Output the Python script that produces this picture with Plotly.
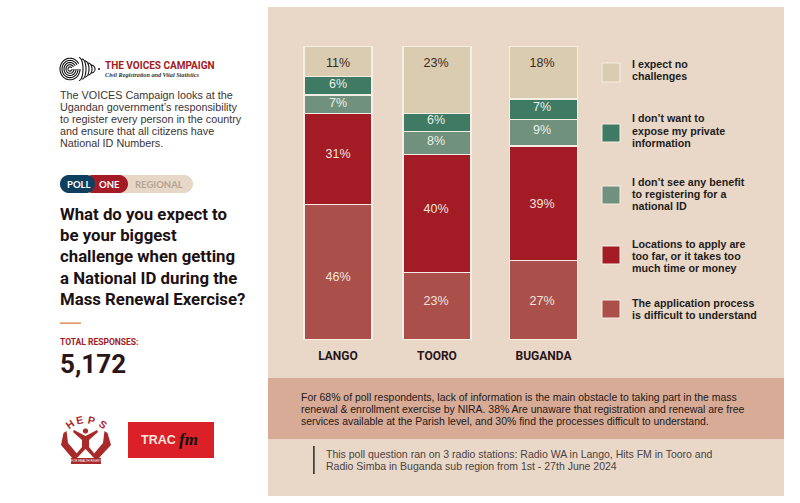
import numpy as np
import plotly.graph_objects as go

W, H = 800, 503

regions = ["LANGO", "TOORO", "BUGANDA"]
answers = ["The application process is difficult to understand",
           "Locations to apply are too far, or it takes too much time or money",
           "I don't see any benefit to registering for a national ID",
           "I don't want to expose my private information",
           "I expect no challenges"]

# bar heights (lango labels add up to 101 so the drawn bars are squeezed)
difficult = [46, 23, 27]
too_far = [31, 40, 39]
no_benefit = [6.3, 8, 9]
private = [6.3, 6, 7]
no_challenge = [10.4, 23, 18]

difficult_lbl = ["46%", "23%", "27%"]
too_far_lbl = ["31%", "40%", "39%"]
no_benefit_lbl = ["7%", "8%", "9%"]
private_lbl = ["6%", "6%", "7%"]
no_challenge_lbl = ["11%", "23%", "18%"]

colors = ["#ab4f4a", "#a31b24", "#70917d", "#3f7a64", "#d9ccb1"]
label_colors = ["#f3e4d8", "#f3e4d8", "#e9efe4", "#e9efe4", "#3a2a22"]

# layout in pixels of the 800x503 page
bar_x = [338, 437, 543.5]
bar_top, bar_bottom = 46, 340
label_x = [338, 436, 542]
label_y = [[278, 302, 302], [155, 210, 205], [104, 142, 131], [85, 121, 108], [64, 64, 64]]

SANS = "Liberation Sans"
HEAD = "Roboto"


def px(x):
    return x / W


def py(y):
    return 1 - y / H


def rect(x0, y0, x1, y1, color, line=None, lw=0):
    return dict(type="rect", xref="paper", yref="paper", x0=px(x0), x1=px(x1), y0=py(y0), y1=py(y1),
                fillcolor=color, line=dict(color=line, width=lw), layer="below")


def path(points, color=None, line=None, lw=0, close=False):
    d = "M " + " L ".join("{:.5f},{:.5f}".format(px(a), py(b)) for a, b in points)
    if close:
        d += " Z"
    return dict(type="path", xref="paper", yref="paper", path=d, fillcolor=color,
                line=dict(color=line, width=lw), layer="above")


def arc(cx, cy, rx, ry, a0, a1, n=40):
    t = np.radians(np.linspace(a0, a1, n))
    return list(zip(cx + rx * np.cos(t), cy + ry * np.sin(t)))


def text(x, y, s, size, color="#1f1a1a", font=SANS, anchor="left", angle=0):
    # annotations carry about a pixel of padding on the left
    dx = -0.8 if anchor == "left" else 0
    return dict(xref="paper", yref="paper", x=px(x + dx), y=py(y), text=s, showarrow=False,
                xanchor=anchor, yanchor="middle", textangle=angle,
                font=dict(family=font, size=size, color=color), borderpad=0)


fig = go.Figure()

series = [difficult, too_far, no_benefit, private, no_challenge]
for vals, name, col in zip(series, answers, colors):
    fig.add_trace(go.Bar(x=bar_x, y=vals, name=name, width=68,
                         marker=dict(color=col, line=dict(color="#f6eee4", width=1.4))))

# percent labels sit off-centre in the original, so they get their own text trace
all_labels = [difficult_lbl, too_far_lbl, no_benefit_lbl, private_lbl, no_challenge_lbl]
for lbls, ys, col in zip(all_labels, label_y, label_colors):
    fig.add_trace(go.Scatter(x=label_x, y=[(bar_bottom - v) / (bar_bottom - bar_top) * 100 for v in ys],
                             mode="text", text=lbls,
                             textfont=dict(family=SANS, size=12.5, color=col)))

shapes = [rect(268, 7, 784, 496, "#e9d8c8"),
          rect(268, 378, 784, 439, "#d7ab95"),
          rect(313.2, 446, 314.6, 474, "#1f1a1a"),
          rect(60, 322.5, 81, 323.8, "#e07b39")]

# legend
swatches = [(63, 82, 4), (124, 142, 3), (186, 204, 2), (246, 264, 1), (300, 318, 0)]
for y0, y1, i in swatches:
    shapes.append(rect(602, y0, 620, y1, colors[i], "#f6eee4", 1))

legend_lines = [(64, "I expect no"), (76, "challenges"),
                (118, "I don\u2019t want to"), (131, "expose my private"), (143, "information"),
                (182, "I don\u2019t see any benefit"), (194, "to registering for a"), (206, "national ID"),
                (244, "Locations to apply are"), (256, "too far, or it takes too"), (268, "much time or money"),
                (303, "The application process"), (315, "is difficult to understand")]

ann = [text(632, y, "<b>" + s + "</b>", 10.7, "#231c1c") for y, s in legend_lines]

# left column
intro = ["The VOICES Campaign looks at the", "Ugandan government\u2019s responsibility",
         "to register every person in the country", "and ensure that all citizens have",
         "National ID Numbers."]
for i, s in enumerate(intro):
    ann.append(text(60, 95 + i * 12, s, 10.8, "#3a3535"))

title = ["What do you expect to", "be your biggest", "challenge when getting",
         "a National ID during the", "Mass Renewal Exercise?"]
for y, s in zip([214, 235, 256, 278, 299], title):
    ann.append(text(60, y, "<b>" + s + "</b>", 16.8, "#1c1214", HEAD))

ann.append(text(60, 342, "<b>TOTAL RESPONSES:</b>", 8.5, "#a31b24", HEAD))
ann.append(text(60, 364, "<b>5,172</b>", 26, "#2a1518", HEAD))

# band and footnote
band = ["For 68% of poll respondents, lack of information is the main obstacle to taking part in the mass",
        "renewal &amp; enrollment exercise by NIRA. 38% Are unaware that registration and renewal are free",
        "services available at the Parish level, and 30% find the processes difficult to understand."]
for y, s in zip([397, 409, 421], band):
    ann.append(text(301, y, s, 10.45, "#1f1a1a"))
foot = ["This poll question ran on 3 radio stations: Radio WA in Lango, Hits FM in Tooro and",
        "Radio Simba in Buganda sub region from 1st - 27th June 2024"]
for y, s in zip([454, 466], foot):
    ann.append(text(326, y, s, 10.5, "#4a4240"))


# poll pill
def pill(x0, x1, y0, y1, color):
    r = (y1 - y0) / 2
    pts = arc(x0 + r, y0 + r, r, r, 90, 270) + arc(x1 - r, y0 + r, r, r, -90, 90)
    return path(pts, color, close=True)


shapes.append(pill(60, 193, 175, 193, "#e7d7c6"))
shapes.append(pill(84, 128, 175, 193, "#a31b24"))
shapes.append(pill(60, 95, 175, 193, "#0e3f5f"))
ann.append(text(78, 184, "<b>POLL</b>", 9.5, "#ffffff", "Lato", "center"))
ann.append(text(109, 184, "<b>ONE</b>", 9.5, "#ffffff", "Lato", "center"))
ann.append(text(159, 184, "<b>REGIONAL</b>", 9.5, "#b3a594", "Lato", "center"))

# voices logo, fingerprint drawn with a few arcs
for r in [2, 4, 6, 8, 10]:
    shapes.append(path(arc(70, 69, r, r * 1.08, 0, 330), None, "#111111", 1.1))
tips = [83, 86, 89, 92, 95]
tip_h = [11.5, 10, 8, 6, 4]
for tip, h in zip(tips, tip_h):
    shapes.append(path(arc(tip - 4, 69, 4, h, -90, 90), None, "#111111", 1.1))
shapes.append(path(arc(99, 69, 1, 1, 0, 360, 12), "#111111", close=True))
ann.append(text(105, 65.5, "<b>THE VOICES CAMPAIGN</b>", 10, "#a31b24", HEAD))
ann.append(text(105, 74.5, "<b><i>Civil Registration and Vital Statistics</i></b>", 6.2, "#333333", "Liberation Serif"))

# heps logo
red = "#a82a2a"
for s, x, y, a in [("H", 70, 424, -35), ("E", 79, 419.5, -12), ("P", 91, 419.5, 12), ("S", 103, 423.5, 35)]:
    ann.append(text(x, y, "<b>" + s + "</b>", 10.5, red, SANS, "center", a))
shapes.append(path(arc(85.5, 431, 2.6, 2.6, 0, 360), red, close=True))
shapes.append(path([(74, 430), (85.5, 436), (97, 430), (98, 432), (89, 440), (89, 447), (98, 458),
                    (95, 459), (85.5, 449), (76, 459), (73, 458), (82, 447), (82, 440), (73, 432)], red, close=True))
shapes.append(path([(66.5, 431), (68, 443), (79, 456), (73, 459), (61, 445), (63.5, 433)], red, close=True))
shapes.append(path([(104.5, 431), (103, 443), (92, 456), (98, 459), (111, 445), (107.5, 433)], red, close=True))
shapes.append(rect(71, 458, 101, 464, red))
ann.append(text(86, 461, "FOR HEALTH RIGHTS", 3, "#ffffff", SANS, "center"))

# trac fm logo
shapes.append(rect(128, 422, 214, 458, "#dc2027"))
ann.append(text(141, 440, "<b>TRAC</b>", 12.5, "#f6e6e0", SANS))
ann.append(text(179, 439, "<b><i>fm</i></b>", 17, "#111111", "Liberation Serif"))

fig.update_layout(
    width=W, height=H, barmode="stack", showlegend=False,
    margin=dict(l=0, r=0, t=0, b=0), paper_bgcolor="#ffffff", plot_bgcolor="rgba(0,0,0,0)",
    shapes=shapes, annotations=ann,
    xaxis=dict(range=[0, W], domain=[0, 1], tickmode="array", tickvals=bar_x,
               ticktext=["<b>" + r + "</b>" for r in regions],
               tickfont=dict(family=HEAD, size=12, color="#2a1518"), ticks="outside", ticklen=5,
               tickcolor="rgba(0,0,0,0)", showgrid=False, zeroline=False, showline=False, fixedrange=True),
    yaxis=dict(range=[0, 100], domain=[py(bar_bottom), py(bar_top)], visible=False, fixedrange=True),
)

# the default page body has an 8px margin, drop it so the chart fills the window
fig.write_html("out.html", config=dict(displayModeBar=False),
               post_script="document.body.style.margin='0';")
